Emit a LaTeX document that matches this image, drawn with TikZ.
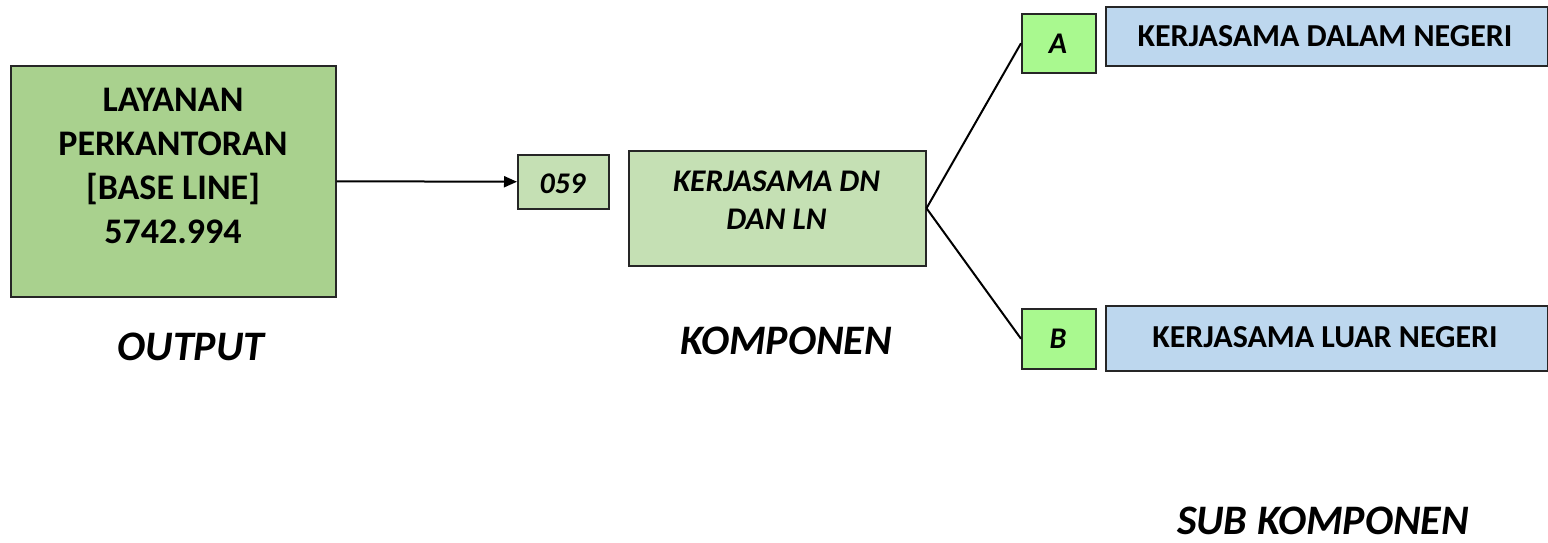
\documentclass[tikz,border=0pt]{standalone}
\usepackage{fontspec}
\setmainfont{Carlito}
\usetikzlibrary{arrows.meta}
\definecolor{outgreen}{HTML}{A9D18E}
\definecolor{lightgreen}{HTML}{C5E0B4}
\definecolor{brightgreen}{HTML}{A9F98F}
\definecolor{lightblue}{HTML}{BDD7EE}
\tikzset{
  box/.style={draw=black!85, line width=1.5pt, inner sep=0pt, anchor=north west},
  txt/.style={align=center, inner sep=0pt, font=\bfseries},
  lbl/.style={inner sep=0pt, font=\fontsize{42}{50}\selectfont\bfseries\itshape},
  conn/.style={line width=2pt, black},
}
\begin{document}
\begin{tikzpicture}[x=1pt,y=-1pt]
\useasboundingbox (0,0) rectangle (1548,542);
% output box
\node[box, fill=outgreen, minimum width=325pt, minimum height=231pt] (out) at (10,65) {};
\node[txt, font=\fontsize{36}{44}\selectfont\bfseries] (outT) at (173,166) {LAYANAN\\PERKANTORAN\\{}[BASE LINE]\\5742.994};
% 059
\node[box, fill=lightgreen, minimum width=91pt, minimum height=54pt] (k059) at (517,154) {};
\node[txt, font=\fontsize{30}{36}\selectfont\bfseries\itshape] (k059T) at (562.5,184) {059};
% komponen box
\node[box, fill=lightgreen, minimum width=297pt, minimum height=115pt] (komp) at (628,150) {};
\node[txt, font=\fontsize{31.5}{38}\selectfont\bfseries\itshape] (kompT) at (776.5,200) {KERJASAMA DN\\DAN LN};
% A / B
\node[box, fill=brightgreen, minimum width=74pt, minimum height=59pt] (A) at (1021,13) {};
\node[txt, font=\fontsize{30}{36}\selectfont\bfseries\itshape] (AT) at (1058,44) {A};
\node[box, fill=brightgreen, minimum width=74pt, minimum height=60pt] (B) at (1021,308) {};
\node[txt, font=\fontsize{30}{36}\selectfont\bfseries\itshape] (BT) at (1058,339) {B};
% blue boxes
\node[box, fill=lightblue, minimum width=442pt, minimum height=59pt] (dn) at (1105,6) {};
\node[txt, font=\fontsize{32}{38}\selectfont\bfseries] (dnT) at (1325,36) {KERJASAMA DALAM NEGERI};
\node[box, fill=lightblue, minimum width=442pt, minimum height=65pt] (ln) at (1105,305) {};
\node[txt, font=\fontsize{32}{38}\selectfont\bfseries] (lnT) at (1325,337) {KERJASAMA LUAR NEGERI};
% labels
\node[lbl] (lout) at (191,347) {OUTPUT};
\node[lbl] (lkomp) at (786,341) {KOMPONEN};
\node[lbl] (lsub) at (1323,521) {SUB KOMPONEN};
% connectors
\draw[conn, -{Triangle[length=13pt,width=11pt]}] (out.east) -- (k059.west);
\draw[conn] (komp.east) -- (A.west);
\draw[conn] (komp.east) -- (B.west);
\end{tikzpicture}
\end{document}
